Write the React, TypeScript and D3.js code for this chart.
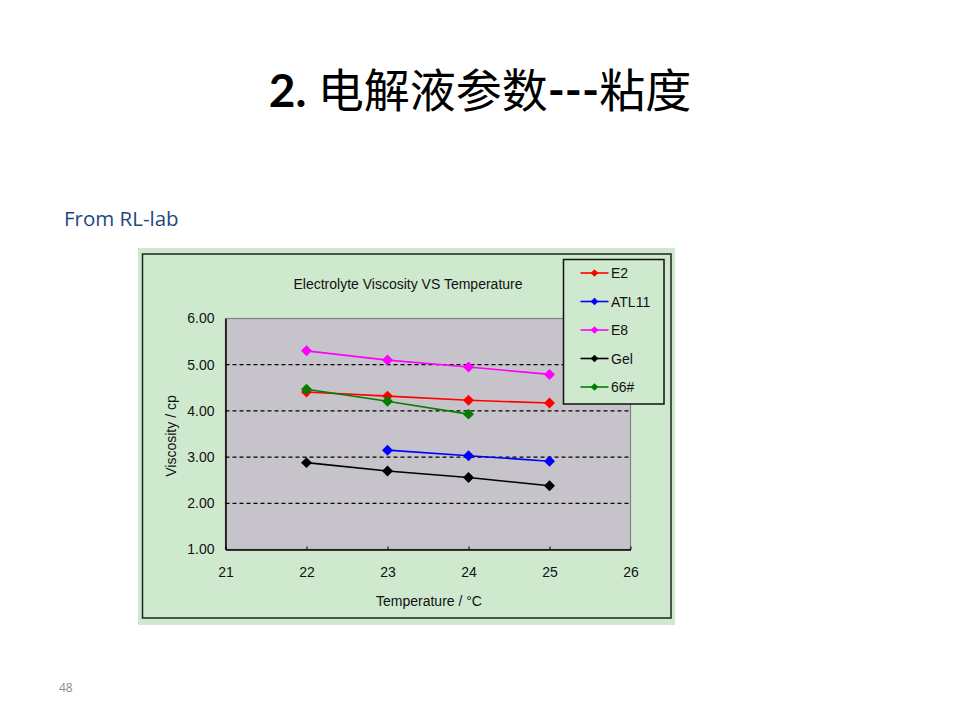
import { useRef, useEffect } from 'react'
import * as d3 from 'd3'

const TEMPS_E2 = [22, 23, 24, 25]
const VALUES_E2 = [4.41, 4.32, 4.23, 4.17]
const TEMPS_ATL11 = [23, 24, 25]
const VALUES_ATL11 = [3.15, 3.03, 2.91]
const TEMPS_E8 = [22, 23, 24, 25]
const VALUES_E8 = [5.30, 5.10, 4.95, 4.79]
const TEMPS_GEL = [22, 23, 24, 25]
const VALUES_GEL = [2.88, 2.70, 2.56, 2.38]
const TEMPS_66 = [22, 23, 24]
const VALUES_66 = [4.47, 4.21, 3.93]

const SERIES_NAMES = ['E2', 'ATL11', 'E8', 'Gel', '66#']
const SERIES_COLORS = ['#ff0000', '#0000ff', '#ff00ff', '#000000', '#008000']
const X_TICKS = [21, 22, 23, 24, 25, 26]
const Y_TICKS = [1, 2, 3, 4, 5, 6]
const GRID_VALUES = [2, 3, 4, 5]

const CHART_FONT = '"Liberation Sans", Arial, sans-serif'
const GREEN = '#cfe9cf'

export default function App() {
  const svgRef = useRef<SVGSVGElement>(null)

  useEffect(() => {
    if (!svgRef.current) return
    const svg = d3.select(svgRef.current)
    svg.selectAll('*').remove()

    const series = [
      { name: SERIES_NAMES[0], color: SERIES_COLORS[0], xs: TEMPS_E2, ys: VALUES_E2 },
      { name: SERIES_NAMES[1], color: SERIES_COLORS[1], xs: TEMPS_ATL11, ys: VALUES_ATL11 },
      { name: SERIES_NAMES[2], color: SERIES_COLORS[2], xs: TEMPS_E8, ys: VALUES_E8 },
      { name: SERIES_NAMES[3], color: SERIES_COLORS[3], xs: TEMPS_GEL, ys: VALUES_GEL },
      { name: SERIES_NAMES[4], color: SERIES_COLORS[4], xs: TEMPS_66, ys: VALUES_66 },
    ].map(s => ({ ...s, pts: s.xs.map((x, i) => [x, s.ys[i]] as [number, number]) }))

    // slide title
    const title = svg.append('text')
      .attr('x', 480).attr('y', 107)
      .attr('text-anchor', 'middle')
      .attr('fill', '#000')
      .attr('font-size', '46px')
    title.append('tspan').attr('font-family', 'Lato, "Open Sans", sans-serif').attr('font-weight', 'bold').text('2. ')
    title.append('tspan').attr('font-family', '"Noto Sans CJK SC", sans-serif').text('电解液参数')
    title.append('tspan').attr('font-family', 'Lato, "Open Sans", sans-serif').attr('font-weight', 'bold').text('---')
    title.append('tspan').attr('font-family', '"Noto Sans CJK SC", sans-serif').text('粘度')

    svg.append('text')
      .attr('x', 64).attr('y', 226)
      .attr('fill', '#1f497d')
      .attr('font-size', '20.5px')
      .attr('font-family', '"Open Sans", sans-serif')
      .text('From RL-lab')

    svg.append('text')
      .attr('x', 59).attr('y', 692)
      .attr('fill', '#8c8c8c')
      .attr('font-size', '12px')
      .attr('font-family', '"Open Sans", sans-serif')
      .text('48')

    // chart picture
    svg.append('rect')
      .attr('x', 138).attr('y', 248).attr('width', 537).attr('height', 377)
      .attr('fill', GREEN)
    svg.append('rect')
      .attr('x', 142.5).attr('y', 254).attr('width', 528.5).attr('height', 364)
      .attr('fill', 'none').attr('stroke', '#222').attr('stroke-width', 1.5)

    svg.append('text')
      .attr('x', 408).attr('y', 289)
      .attr('text-anchor', 'middle')
      .attr('font-size', '14px').attr('font-family', CHART_FONT).attr('fill', '#111')
      .text('Electrolyte Viscosity VS Temperature')

    const xScale = d3.scaleLinear().domain([21, 26]).range([225.5, 630.5])
    const yScale = d3.scaleLinear().domain([1, 6]).range([549.5, 318.5])

    const [x0, x1] = xScale.range()
    const [y0, y1] = yScale.range()

    svg.append('rect')
      .attr('x', x0).attr('y', y1).attr('width', x1 - x0).attr('height', y0 - y1)
      .attr('fill', '#c6c3ca').attr('stroke', '#808080').attr('stroke-width', 1.2)

    svg.append('g').selectAll('line')
      .data(GRID_VALUES)
      .enter().append('line')
      .attr('x1', x0).attr('x2', x1)
      .attr('y1', d => yScale(d)).attr('y2', d => yScale(d))
      .attr('stroke', '#000').attr('stroke-width', 1.3)
      .attr('stroke-dasharray', '4,3')

    // axes
    const xAxis = svg.append('g').attr('transform', `translate(0,${y0})`)
      .call(d3.axisBottom(xScale).tickValues(X_TICKS).tickSize(3).tickSizeOuter(0).tickFormat(d => String(d)))
    xAxis.select('.domain').attr('stroke', '#000').attr('stroke-width', 1.5)
    xAxis.selectAll('.tick line').attr('stroke', '#000').attr('transform', 'translate(0,-3)')
    xAxis.selectAll('.tick text')
      .attr('y', 18).attr('fill', '#111')
      .attr('font-size', '14px').attr('font-family', CHART_FONT)

    const yAxis = svg.append('g').attr('transform', `translate(${x0},0)`)
      .call(d3.axisLeft(yScale).tickValues(Y_TICKS).tickSize(0).tickSizeOuter(0).tickFormat(d => d3.format('.2f')(Number(d))))
    yAxis.select('.domain').attr('stroke', '#000').attr('stroke-width', 1.5)
    yAxis.selectAll('.tick text')
      .attr('x', -11).attr('fill', '#111')
      .attr('font-size', '14px').attr('font-family', CHART_FONT)

    svg.append('text')
      .attr('x', 429).attr('y', 606)
      .attr('text-anchor', 'middle')
      .attr('font-size', '14px').attr('font-family', CHART_FONT).attr('fill', '#111')
      .text('Temperature / °C')

    svg.append('text')
      .attr('transform', 'translate(176,436) rotate(-90)')
      .attr('text-anchor', 'middle')
      .attr('font-size', '14px').attr('font-family', CHART_FONT).attr('fill', '#111')
      .text('Viscosity / cp')

    // series
    const line = d3.line<[number, number]>().x(d => xScale(d[0])).y(d => yScale(d[1]))
    const marker = d3.symbol().type(d3.symbolSquare).size(60)
    const smallMarker = d3.symbol().type(d3.symbolSquare).size(30)

    series.forEach(s => {
      svg.append('path')
        .attr('d', line(s.pts))
        .attr('fill', 'none').attr('stroke', s.color).attr('stroke-width', 1.6)
      svg.append('g').selectAll('path')
        .data(s.pts)
        .enter().append('path')
        .attr('d', marker())
        .attr('transform', d => `translate(${xScale(d[0])},${yScale(d[1])}) rotate(45)`)
        .attr('fill', s.color)
    })

    // legend
    svg.append('rect')
      .attr('x', 563.5).attr('y', 259.5).attr('width', 100.5).attr('height', 144.5)
      .attr('fill', GREEN).attr('stroke', '#111').attr('stroke-width', 1.5)

    const legendY = d3.scalePoint<string>().domain(SERIES_NAMES).range([273, 387])
    series.forEach(s => {
      const ly = legendY(s.name) ?? 0
      svg.append('line')
        .attr('x1', 580.5).attr('x2', 608.5).attr('y1', ly).attr('y2', ly)
        .attr('stroke', s.color).attr('stroke-width', 1.6)
      svg.append('path')
        .attr('d', smallMarker())
        .attr('transform', `translate(594.5,${ly}) rotate(45)`)
        .attr('fill', s.color)
      svg.append('text')
        .attr('x', 611).attr('y', ly)
        .attr('dy', '0.36em')
        .attr('font-size', '14px').attr('font-family', CHART_FONT).attr('fill', '#111')
        .text(s.name)
    })

    return () => { svg.selectAll('*').remove() }
  }, [])

  return (
    <div style={{ position: 'absolute', left: 0, top: 0, width: 960, height: 720, background: '#fff' }}>
      <svg ref={svgRef} width={960} height={720} style={{ display: 'block' }} />
    </div>
  )
}
